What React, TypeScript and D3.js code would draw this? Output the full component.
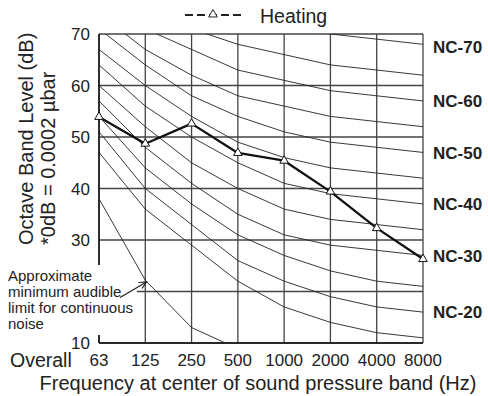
import React from "react";
import * as d3 from "d3";

// octave bands (Hz)
const freqs = ["63", "125", "250", "500", "1000", "2000", "4000", "8000"];
const yGrid = [10, 20, 30, 40, 50, 60, 70];
// the "20" label is hidden behind the annotation in the reference
const yLabels = [10, 30, 40, 50, 60, 70];

// NC curves, dB per octave band
const ncNames = ["NC-15", "NC-20", "NC-25", "NC-30", "NC-35", "NC-40", "NC-45", "NC-50", "NC-55", "NC-60", "NC-65", "NC-70"];
const ncValues = [
  [47, 36, 29, 22, 17, 14, 12, 11],
  [51, 40, 33, 26, 22, 19, 17, 16],
  [54, 44, 37, 31, 27, 24, 22, 21],
  [57, 48, 41, 35, 31, 29, 28, 27],
  [60, 52, 45, 40, 36, 34, 33, 32],
  [64, 56, 50, 45, 41, 39, 38, 37],
  [67, 60, 54, 49, 46, 44, 43, 42],
  [71, 64, 58, 54, 51, 49, 48, 47],
  [74, 67, 62, 58, 56, 54, 53, 52],
  [77, 71, 67, 63, 61, 59, 58, 57],
  [80, 75, 71, 68, 66, 64, 63, 62],
  [83, 79, 75, 72, 71, 70, 69, 68],
];
const labelledNC = ["NC-70", "NC-60", "NC-50", "NC-40", "NC-30", "NC-20"];

// approximate minimum audible limit (first four bands)
const audibleFreqs = ["63", "125", "250", "500"];
const audibleValues = [38, 22.2, 13, 8.9];

// measured heating spectrum
const heating = [53.9, 48.7, 52.6, 46.9, 45.4, 39.4, 32.3, 26.3];

const annotationLines = ["Approximate", "minimum audible", "limit for continuous", "noise"];

const font = "'Liberation Sans', Arial, sans-serif";
const ink = "#222";

export default function App() {
  const width = 488;
  const height = 396;
  const left = 99, right = 423, top = 34, bottom = 343;

  const x = d3.scalePoint<string>().domain(freqs).range([left, right]);
  const y = d3.scaleLinear().domain([10, 70]).range([bottom, top]);

  const line = d3.line<number>()
    .x((_, i) => x(freqs[i]) as number)
    .y(d => y(d));
  const audibleLine = d3.line<number>()
    .x((_, i) => x(audibleFreqs[i]) as number)
    .y(d => y(d));

  const tri = d3.symbol().type(d3.symbolTriangle).size(32)();

  return (
    <svg width={width} height={height} style={{ position: "absolute", left: 0, top: 0, background: "#fff" }}
      fontFamily={font}>
      <defs>
        <clipPath id="plot">
          <rect x={left} y={top} width={right - left} height={bottom - top} />
        </clipPath>
      </defs>

      {/* legend */}
      <g transform="translate(0,15)">
        <line x1={185} x2={241} y1={0} y2={0} stroke={ink} strokeWidth={2.2} strokeDasharray="8,4" />
        <path d={tri} transform="translate(213,-0.5)" fill="#fff" stroke={ink} strokeWidth={1} />
        <text x={260} y={8} fontSize={19.5} fill={ink}>Heating</text>
      </g>

      {/* grid */}
      {yGrid.map(t => (
        <line key={"h" + t} x1={left} x2={right} y1={y(t)} y2={y(t)} stroke="#444" strokeWidth={1.3} />
      ))}
      {freqs.map(f => (
        <line key={"v" + f} x1={x(f)} x2={x(f)} y1={top} y2={bottom} stroke="#444" strokeWidth={1.3} />
      ))}
      <line x1={left} x2={right} y1={bottom} y2={bottom} stroke="#111" strokeWidth={1.5} />
      <line x1={left} x2={left} y1={top} y2={bottom} stroke="#111" strokeWidth={1.5} />

      {/* y tick labels */}
      {yLabels.map(t => (
        <text key={"yl" + t} x={90} y={y(t)} dy="0.36em" textAnchor="end" fontSize={17} fill={ink}>{t}</text>
      ))}

      {/* annotation background */}
      <rect x={4} y={265} width={133} height={70} fill="#fff" />

      {/* NC curves */}
      <g clipPath="url(#plot)" fill="none" stroke={ink} strokeWidth={0.9}>
        {ncValues.map((v, i) => (
          <path key={ncNames[i]} d={line(v) as string} />
        ))}
        <path d={audibleLine(audibleValues) as string} />
      </g>

      {/* NC labels */}
      {ncNames.map((n, i) => labelledNC.includes(n) ? (
        <text key={"l" + n} x={433} y={y(ncValues[i][7]) + (n === "NC-70" ? 3 : 0)} dy="0.36em" fontSize={17}
          fontWeight="bold" fill={ink}>{n}</text>
      ) : null)}

      {/* heating spectrum */}
      <path d={line(heating) as string} fill="none" stroke="#111" strokeWidth={2.3} strokeLinejoin="round" />
      {heating.map((v, i) => (
        <path key={"p" + i} d={tri} transform={`translate(${x(freqs[i])},${y(v)})`} fill="#fff" stroke="#111" strokeWidth={1} />
      ))}

      {/* annotation */}
      <g fontSize={15} fill={ink}>
        {annotationLines.map((s, i) => (
          <text key={s} x={8} y={280.5 + i * 16}>{s}</text>
        ))}
      </g>
      <line x1={120} y1={297.5} x2={146.5} y2={282} stroke={ink} strokeWidth={1.2} />
      <path d="M138.5,282.5 L146.5,282 L142,288.5" fill="none" stroke={ink} strokeWidth={1.2} />

      {/* x axis labels */}
      <text x={10} y={367} fontSize={19.5} fill={ink}>Overall</text>
      {freqs.map(f => (
        <text key={"xl" + f} x={x(f)} y={366} textAnchor="middle" fontSize={17} fill={ink}>{f}</text>
      ))}
      <text x={258} y={390} textAnchor="middle" fontSize={20} fill={ink}>
        Frequency at center of sound pressure band (Hz)
      </text>

      {/* y axis title */}
      <text transform="translate(33,245) rotate(-90)" fontSize={20} fill={ink}>Octave Band Level (dB)</text>
      <text transform="translate(55,245) rotate(-90)" fontSize={20} fill={ink}>*0dB = 0.0002 µbar</text>
    </svg>
  );
}
